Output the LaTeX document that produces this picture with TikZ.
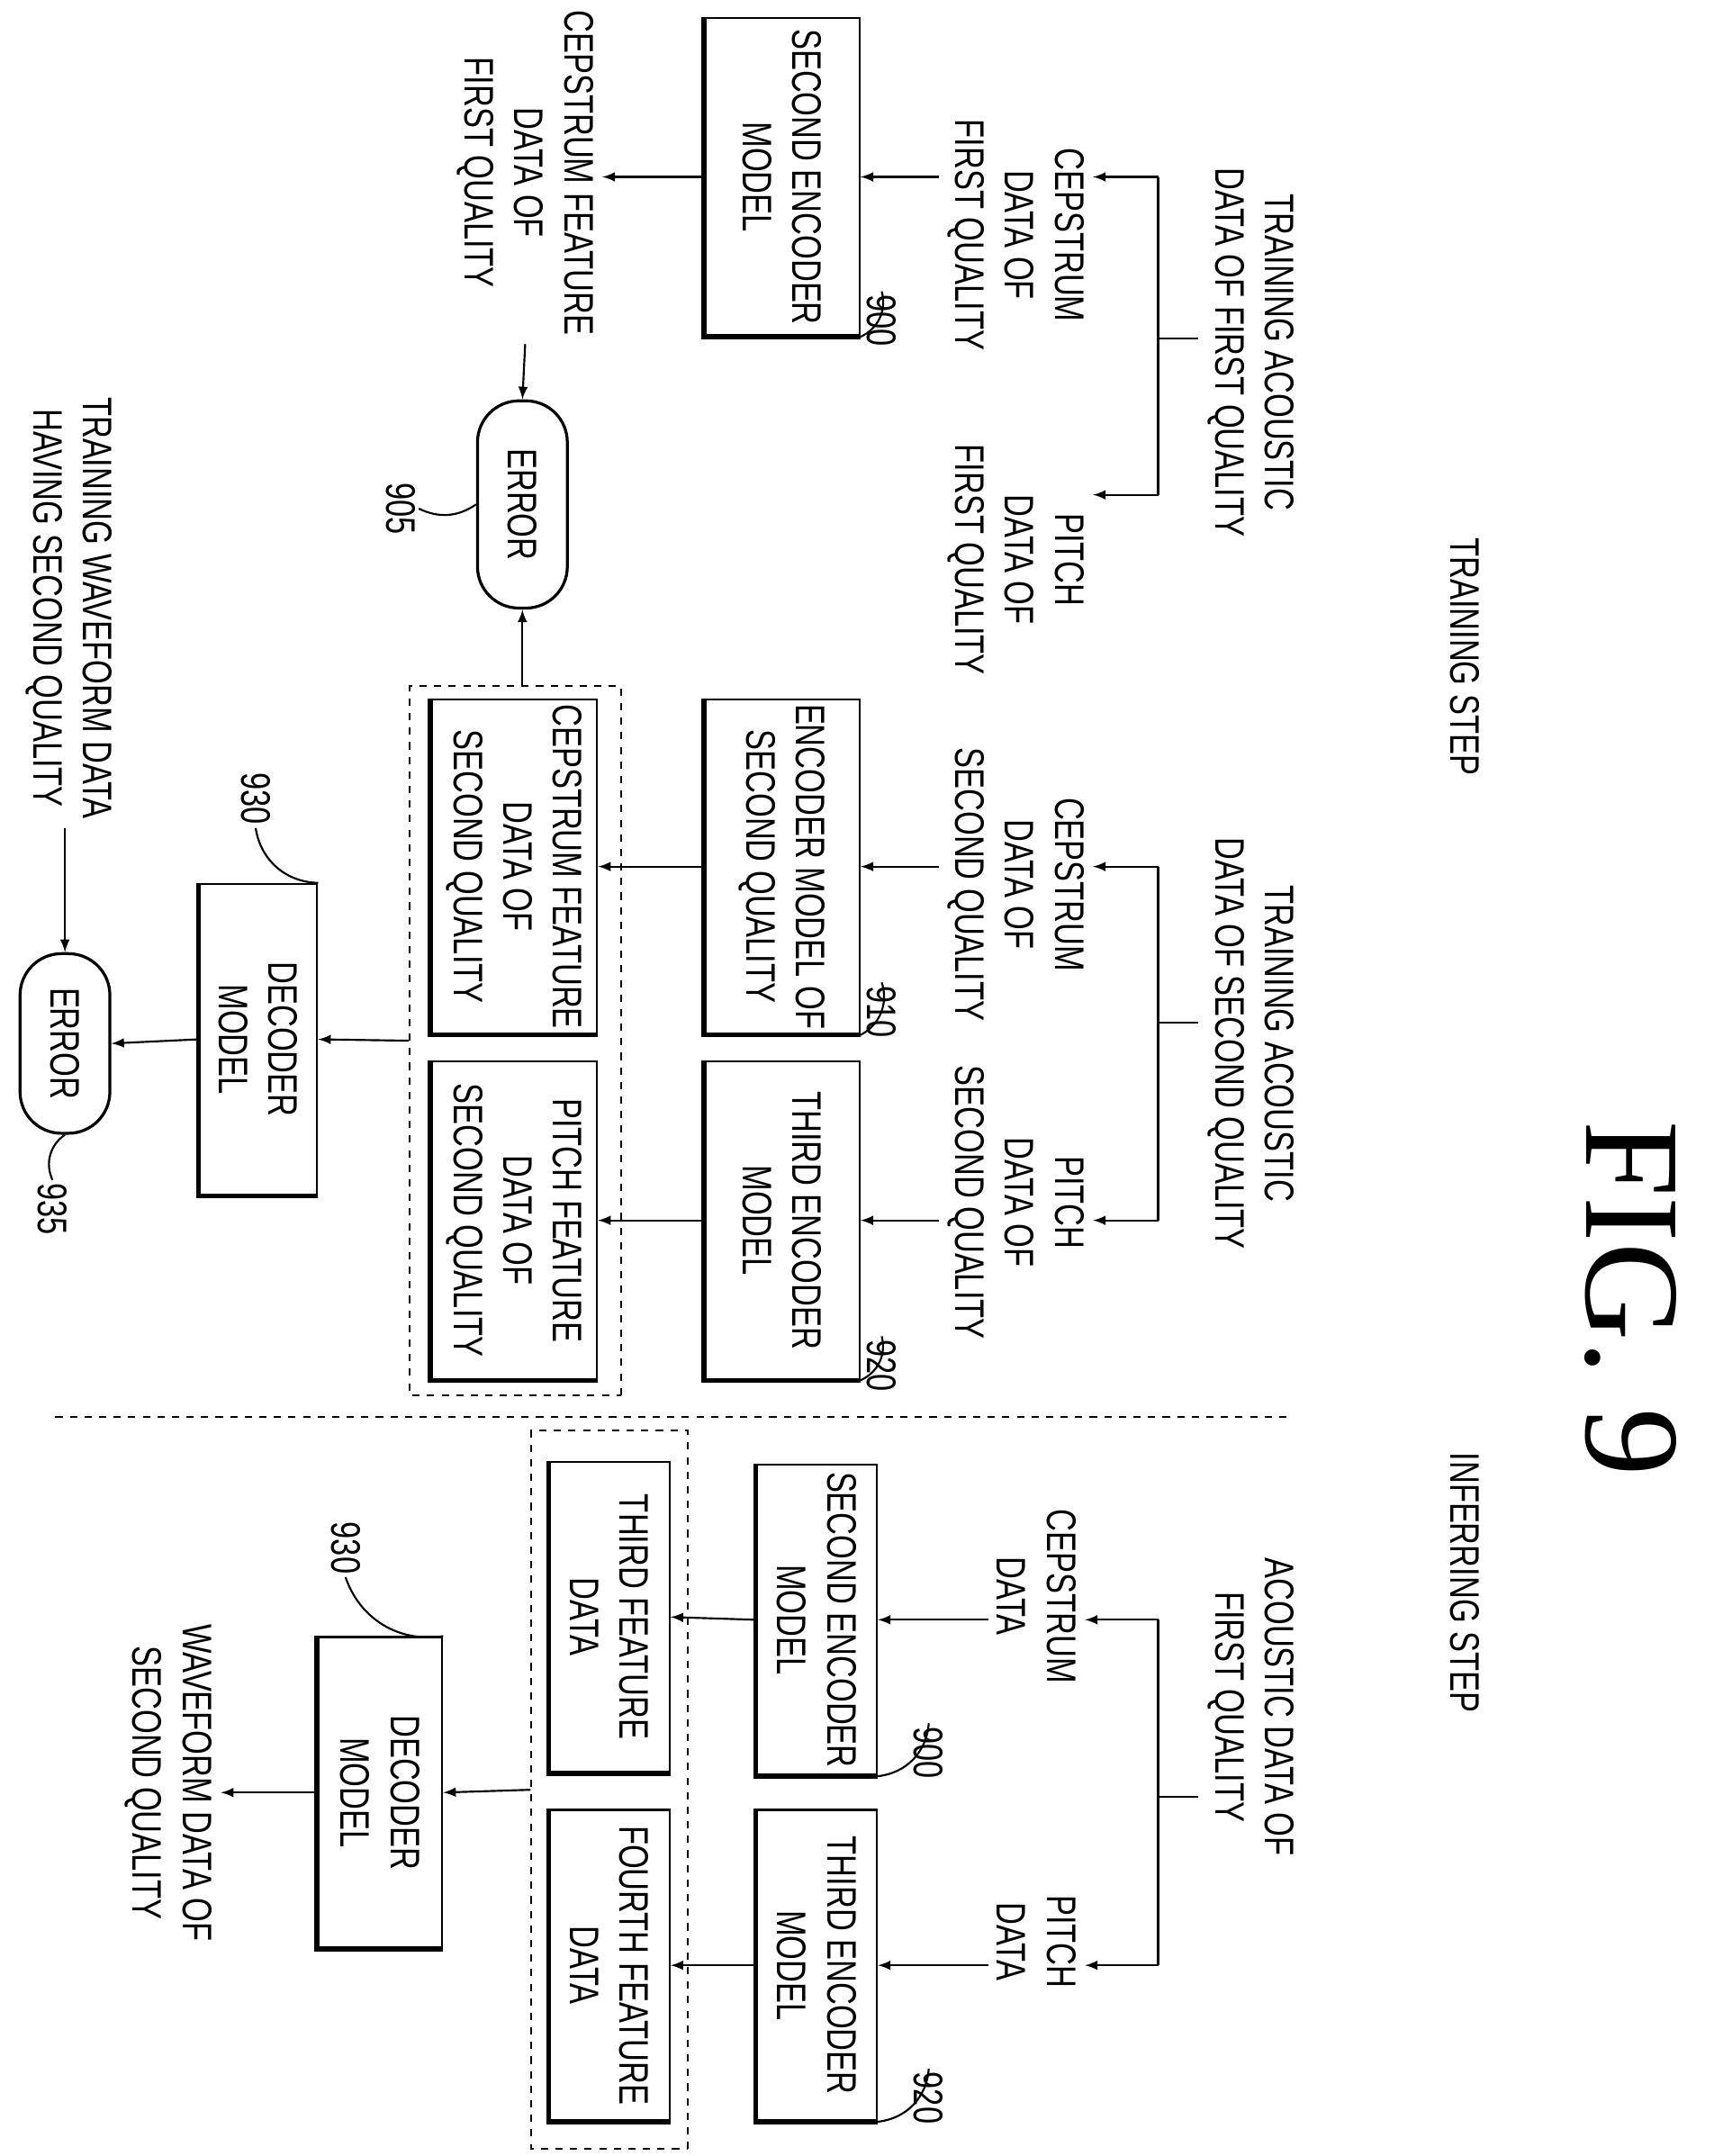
\documentclass[tikz,border=0pt]{standalone}
\usepackage{fontspec}
\setmainfont{Liberation Sans}[FakeStretch=0.75]
\newfontfamily\figfont{Liberation Serif}
\tikzset{
  every node/.append style={rotate=-90, font=\fontsize{17}{20.5}\selectfont, align=center},
  box/.style={draw, thick, inner sep=2pt},
  pill/.style={draw, very thick, rounded corners=0.6cm},
  dbox/.style={draw, dashed},
  num/.style={inner sep=1pt},
}
\newcommand{\boxshadow}[1]{\draw[line width=2pt] (#1.south west) -- (#1.south east) -- (#1.north east);}
\begin{document}
\begin{tikzpicture}[x=0.02cm, y=-0.02cm, >=latex, thick]
\useasboundingbox (0,0) rectangle (1240,1560);
\node (fig) at (1180,940) {\figfont\fontsize{56}{60}\selectfont FIG. 9};
\node (trainstep) at (1060,475) {TRAINING STEP};
\node (infstep) at (1060,1145) {INFERRING STEP};
\draw[dashed] (40,1025) -- (935,1025);

%training, first quality
\node (ta1) at (905,255) {TRAINING ACOUSTIC\\DATA OF FIRST QUALITY};
\coordinate (k1) at (838,245);
\coordinate (k1a) at (838,128);
\coordinate (k1b) at (838,358);
\node (cep1) at (735,170) {CEPSTRUM\\DATA OF\\FIRST QUALITY};
\node (pit1) at (735,405) {PITCH\\DATA OF\\FIRST QUALITY};
\draw (ta1.south |- k1) -- (k1);
\draw (k1a) -- (k1b);
\draw[->] (k1a) -- (cep1.north |- k1a);
\draw[->] (k1b) -- (pit1.north |- k1b);
\node[box, minimum width=4.6cm, minimum height=2.24cm] (enc900) at (566,128) {SECOND ENCODER\\MODEL};
\boxshadow{enc900}
\draw[->] (cep1.south |- enc900) -- (enc900.north);
\node (cf1) at (380,125) {CEPSTRUM FEATURE\\DATA OF\\FIRST QUALITY};
\draw[->] (enc900.south) -- (cf1.north |- enc900);
\node[pill, minimum width=3cm, minimum height=1.3cm] (err1) at (378,365) {ERROR};
\draw[->] (cf1.east) -- (err1.west);
\node[num] (n905) at (290,368) {905};
\draw (n905.north) to[bend right=30] (err1.south);
\node[num] (n900a) at (638,232) {900};
\draw (n900a.west) to[bend left=40] (enc900.north east);

%training, second quality
\node (ta2) at (905,755) {TRAINING ACOUSTIC\\DATA OF SECOND QUALITY};
\coordinate (k2) at (838,740);
\coordinate (k2a) at (838,627);
\coordinate (k2b) at (838,883);
\node (cep2) at (735,640) {CEPSTRUM\\DATA OF\\SECOND QUALITY};
\node (pit2) at (735,870) {PITCH\\DATA OF\\SECOND QUALITY};
\draw (ta2.south |- k2) -- (k2);
\draw (k2a) -- (k2b);
\draw[->] (k2a) -- (cep2.north |- k2a);
\draw[->] (k2b) -- (pit2.north |- k2b);
\node[box, minimum width=4.6cm, minimum height=2.24cm] (enc910) at (566,627) {ENCODER MODEL OF\\SECOND QUALITY};
\node[box, minimum width=4.6cm, minimum height=2.24cm] (enc920) at (566,883) {THIRD ENCODER\\MODEL};
\boxshadow{enc910}
\boxshadow{enc920}
\draw[->] (cep2.south |- enc910) -- (enc910.north);
\draw[->] (pit2.south |- enc920) -- (enc920.north);
\node[box, minimum width=4.6cm, minimum height=2.4cm] (cf2) at (372,627) {CEPSTRUM FEATURE\\DATA OF\\SECOND QUALITY};
\node[box, minimum width=4.6cm, minimum height=2.4cm] (pf2) at (372,883) {PITCH FEATURE\\DATA OF\\SECOND QUALITY};
\boxshadow{cf2}
\boxshadow{pf2}
\node[dbox, minimum width=10.26cm, minimum height=3.06cm] (grp1) at (373,753) {};
\draw[->] (enc910.south) -- (cf2.north);
\draw[->] (enc920.south) -- (pf2.north);
\draw[->] (grp1.west -| err1) -- (err1.east);
\node[num] (n910) at (638,732) {910};
\draw (n910.west) to[bend left=40] (enc910.north east);
\node[num] (n920a) at (638,988) {920};
\draw (n920a.west) to[bend left=40] (enc920.north east);
\node[box, minimum width=4.5cm, minimum height=1.7cm] (dec1) at (187,752) {DECODER\\MODEL};
\boxshadow{dec1}
\draw[->] (grp1.south) -- (dec1.north);
\node[num] (n930a) at (185,578) {930};
\draw (n930a.east) to[bend right=40] (dec1.north west);
\node[pill, minimum width=2.6cm, minimum height=1.3cm] (err2) at (47,755) {ERROR};
\draw[->] (dec1.south) -- (err2.north);
\node[num] (n935) at (38,875) {935};
\draw (n935.west) to[bend left=40] (err2.east);
\node (wave1) at (50,440) {TRAINING WAVEFORM DATA\\HAVING SECOND QUALITY};
\draw[->] (wave1.east -| err2) -- (err2.west);

%inferring
\node (ia) at (905,1235) {ACOUSTIC DATA OF\\FIRST QUALITY};
\coordinate (k3) at (838,1300);
\coordinate (k3a) at (838,1172);
\coordinate (k3b) at (838,1422);
\node (cep3) at (750,1155) {CEPSTRUM\\DATA};
\node (pit3) at (750,1405) {PITCH\\DATA};
\draw (ia.south |- k3) -- (k3);
\draw (k3a) -- (k3b);
\draw[->] (k3a) -- (cep3.north |- k3a);
\draw[->] (k3b) -- (pit3.north |- k3b);
\node[box, minimum width=4.5cm, minimum height=1.74cm] (enc900b) at (591,1172) {SECOND ENCODER\\MODEL};
\node[box, minimum width=4.5cm, minimum height=1.74cm] (enc920b) at (591,1422) {THIRD ENCODER\\MODEL};
\boxshadow{enc900b}
\boxshadow{enc920b}
\draw[->] (cep3.south |- enc900b) -- (enc900b.north);
\draw[->] (pit3.south |- enc920b) -- (enc920b.north);
\node[box, minimum width=4.5cm, minimum height=1.74cm] (tf) at (441,1170) {THIRD FEATURE\\DATA};
\node[box, minimum width=4.5cm, minimum height=1.74cm] (ff) at (441,1422) {FOURTH FEATURE\\DATA};
\boxshadow{tf}
\boxshadow{ff}
\node[dbox, minimum width=10.4cm, minimum height=2.26cm] (grp2) at (441,1295) {};
\draw[->] (enc900b.south) -- (tf.north);
\draw[->] (enc920b.south) -- (ff.north);
\node[num] (n900b) at (672,1268) {900};
\draw (n900b.west) to[bend left=40] (enc900b.north east);
\node[num] (n920b) at (672,1518) {920};
\draw (n920b.west) to[bend left=40] (enc920b.north east);
\node[box, minimum width=4.5cm, minimum height=1.8cm] (dec2) at (275,1297) {DECODER\\MODEL};
\boxshadow{dec2}
\draw[->] (grp2.south) -- (dec2.north);
\node[num] (n930b) at (250,1120) {930};
\draw (n930b.east) to[bend right=40] (dec2.north west);
\node (wave2) at (122,1290) {WAVEFORM DATA OF\\SECOND QUALITY};
\draw[->] (dec2.south) -- (wave2.north |- dec2);
\end{tikzpicture}
\end{document}
